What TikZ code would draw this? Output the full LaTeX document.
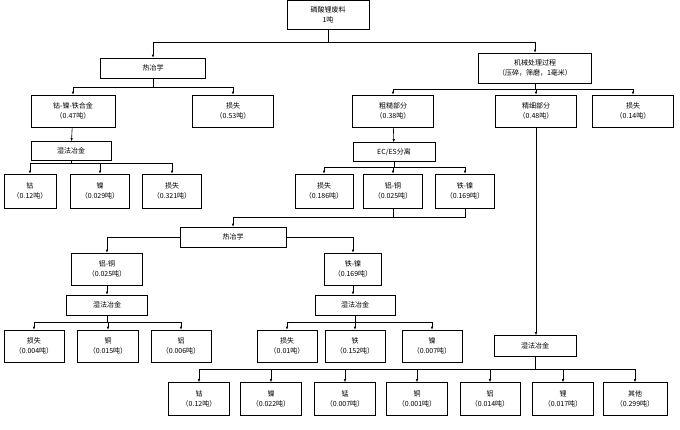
\documentclass[tikz,border=0pt]{standalone}
\usepackage{fontspec}
\setmainfont{Noto Sans CJK SC}
\usetikzlibrary{arrows.meta,positioning}
\begin{document}
\begin{tikzpicture}[x=1pt,y=-1pt,semithick,font=\fontsize{7}{10}\selectfont]
	  \tikzstyle{box}=[draw=black,fill=white,align=center,inner sep=1pt,minimum height=32pt]
	  \tikzstyle{bar}=[draw=black,fill=white,align=center,inner sep=1pt,minimum height=20pt]
	  \tikzstyle{arr}=[-{Latex[length=3pt,width=2.5pt]},line width=0.6pt]
	  \useasboundingbox (0,0) rectangle (680,429);

	  % top levels
	  \node[box,minimum width=82pt,minimum height=29pt] (raw) at (328,15) {磷酸锂废料\\1吨};
	  \node[bar,minimum width=105pt] (hot) at (153,68) {热冶学};
	  \node[box,minimum width=113pt,minimum height=30pt] (mech) at (535,68) {机械处理过程\\（压碎，筛磨，1毫米）};

	  \node[box,minimum width=84pt] (alloy) at (73,111) {钴-镍-铁合金\\（0.47吨）};
	  \node[box,minimum width=81pt] (lossA) at (233,111) {损失\\（0.53吨）};
	  \node[box,minimum width=81pt] (coarse) at (393,111) {粗糙部分\\（0.38吨）};
	  \node[box,minimum width=81pt] (fine) at (536,111) {精细部分\\（0.48吨）};
	  \node[box,minimum width=81pt] (lossB) at (633,111) {损失\\（0.14吨）};

	  \node[bar,minimum width=80pt,minimum height=19pt] (wetA) at (71,151) {湿法冶金};
	  \node[bar,minimum width=82pt,minimum height=19pt] (ecs) at (394,152) {EC/ES分离};

	  \node[box,minimum width=52pt,minimum height=34pt] (co1) at (30,191) {钴\\（0.12吨）};
	  \node[box,minimum width=59pt,minimum height=34pt] (ni1) at (100,191) {镍\\（0.029吨）};
	  \node[box,minimum width=59pt,minimum height=34pt] (lossC) at (172,191) {损失\\（0.321吨）};
	  \node[box,minimum width=58pt,minimum height=34pt] (lossD) at (324,191) {损失\\（0.186吨）};
	  \node[box,minimum width=59pt,minimum height=34pt] (alcu) at (393,191) {铝-铜\\（0.025吨）};
	  \node[box,minimum width=59pt,minimum height=34pt] (feni) at (465,191) {铁-镍\\（0.169吨）};

	  % second hot smelting
	  \node[bar,minimum width=106pt] (hot2) at (233,237) {热冶学};
	  \node[box,minimum width=71pt] (alcu2) at (107,269) {铝-铜\\（0.025吨）};
	  \node[box,minimum width=57pt] (feni2) at (353,269) {铁-镍\\（0.169吨）};
	  \node[bar,minimum width=81pt] (wetB) at (107,305) {湿法冶金};
	  \node[bar,minimum width=80pt] (wetC) at (355,305) {湿法冶金};
	  \node[bar,minimum width=82pt,minimum height=21pt] (wetD) at (535,346) {湿法冶金};

	  \node[box,minimum width=60pt] (lossE) at (34,346) {损失\\（0.004吨）};
	  \node[box,minimum width=61pt] (cu1) at (108,346) {铜\\（0.015吨）};
	  \node[box,minimum width=60pt] (al1) at (181,346) {铝\\（0.006吨）};
	  \node[box,minimum width=60pt] (lossF) at (287,346) {损失\\（0.01吨）};
	  \node[box,minimum width=60pt] (fe1) at (355,346) {铁\\（0.152吨）};
	  \node[box,minimum width=60pt] (ni2) at (432,346) {镍\\（0.007吨）};

	  % fine fraction products
	  \node[box,minimum width=61pt,minimum height=33pt] (co2) at (199,399) {钴\\（0.12吨）};
	  \node[box,minimum width=61pt,minimum height=33pt] (ni3) at (271,399) {镍\\（0.022吨）};
	  \node[box,minimum width=61pt,minimum height=33pt] (mn) at (345,399) {锰\\（0.007吨）};
	  \node[box,minimum width=61pt,minimum height=33pt] (cu2) at (417,399) {铜\\（0.001吨）};
	  \node[box,minimum width=60pt,minimum height=33pt] (al2) at (490,399) {铝\\（0.014吨）};
	  \node[box,minimum width=61pt,minimum height=33pt] (li) at (563,399) {锂\\（0.017吨）};
	  \node[box,minimum width=64pt,minimum height=33pt] (rest) at (635,399) {其他\\（0.299吨）};

	  % connectors
	  \draw (raw.south) -- (328,42) coordinate (b0);
	  \foreach \t in {hot,mech} \draw[arr] (b0) -| (\t.north);
	  \draw (hot.south) -- (153,87) coordinate (b1);
	  \foreach \t in {alloy,lossA} \draw[arr] (b1) -| (\t.north);
	  \draw (mech.south) -- (535,89) coordinate (b2);
	  \foreach \t in {coarse,fine,lossB} \draw[arr] (b2) -| (\t.north);
	  \draw[arr] (alloy) -- (wetA);
	  \draw[arr] (coarse) -- (ecs);
	  \draw (wetA.south) -- (71,163) coordinate (b3);
	  \foreach \t in {co1,ni1,lossC} \draw[arr] (b3) -| (\t.north);
	  \draw (ecs.south) -- (394,167) coordinate (b4);
	  \foreach \t in {lossD,alcu,feni} \draw[arr] (b4) -| (\t.north);
	  \draw (alcu.south) |- (233,217) coordinate (b5);
	  \draw (feni.south) |- (b5);
	  \draw[arr] (b5) -- (hot2.north);
	  \draw[arr] (hot2.west) -| (alcu2.north);
	  \draw[arr] (hot2.east) -| (feni2.north);
	  \draw[arr] (alcu2) -- (wetB);
	  \draw[arr] (feni2.south) -- (feni2.south |- wetC.north);
	  \draw (wetB.south) -- (107,322) coordinate (b6);
	  \foreach \t in {lossE,cu1,al1} \draw[arr] (b6) -| (\t.north);
	  \draw (wetC.south) -- (355,322) coordinate (b7);
	  \foreach \t in {lossF,fe1,ni2} \draw[arr] (b7) -| (\t.north);
	  \draw[arr] (fine.south) -- (fine.south |- wetD.north);
	  \draw (wetD.south) -- (535,369) coordinate (b8);
	  \foreach \t in {co2,ni3,mn,cu2,al2,li,rest} \draw[arr] (b8) -| (\t.north);
\end{tikzpicture}
\end{document}
